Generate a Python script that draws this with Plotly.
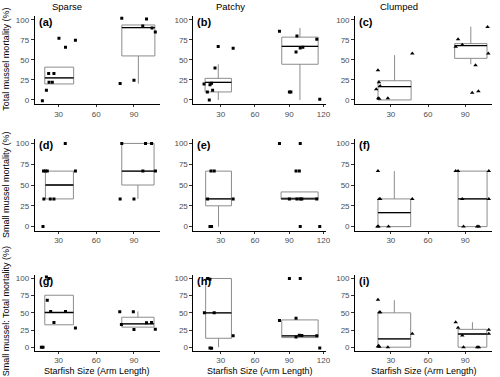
import plotly.graph_objects as go

# ---------------- data ----------------
col_titles = ["Sparse", "Patchy", "Clumped"]
row_titles = ["Total mussel mortality (%)", "Small mussel mortality (%)",
              "Small mussel: Total mortality (%)"]
x_title = "Starfish Size (Arm Length)"
panel_labels = ["(a)", "(b)", "(c)", "(d)", "(e)", "(f)", "(g)", "(h)", "(i)"]
y_ticks = [0, 25, 50, 75, 100]
x_ticks_col = [[30, 60, 90], [30, 60, 90, 120], [30, 60, 90]]

# panel (a)
a_x = [17.1, 20.3, 22.1, 26.3, 22.4, 25.0, 30.3, 35.5, 43.4, 80.3, 79.0, 90.0, 97.0, 100.0, 104.4, 107.0]
a_y = [-1, 12, 33, 33, 22, 22, 77, 66, 74.6, 102, 20.4, 24.6, 92.5, 101, 90, 85]
a_pos = [30.5, 93.5]; a_wid = [23.0, 26.3]
a_q1 = [20, 55]; a_med = [27.5, 90.4]; a_q3 = [41, 93.7]; a_lo = [20, 20.4]; a_hi = [41, 93.7]

# panel (b)
b_x = [15.4, 18.3, 20.0, 20.6, 22.0, 22.9, 25.0, 27.8, 40.9, 81.5, 90.2, 91.5, 96.8, 96.0, 99.7, 102.0, 114.2, 116.8]
b_y = [20, 10, 0, 19, 21, 12, 40, 66.7, 64.6, 86, 10, 10, 80, 60, 65, 66, 76, 1]
b_pos = [27.85, 99.45]; b_wid = [23.1, 31.9]
b_q1 = [10, 44.6]; b_med = [22, 67]; b_q3 = [27, 78.5]; b_lo = [0, 0]; b_hi = [44.6, 90]

# panel (c)
c_x = [19.6, 20.4, 18.2, 21.4, 19.8, 20.6, 27.6, 47.3, 84.2, 82.3, 87.6, 98.3, 95.6, 100.6, 108.0, 108.6]
c_y = [37, 22, 13.3, 17.5, 2, 1.5, 2, 58, 76, 66.6, 69, 43.4, 9, 11, 91, 58]
c_pos = [33.0, 94.5]; c_wid = [26.7, 26.1]
c_q1 = [0, 52]; c_med = [16.7, 68]; c_q3 = [24, 70.4]; c_lo = [0, 44.6]; c_hi = [56, 91.6]

# panel (d)
d_x = [17.6, 18.0, 19.5, 21.0, 18.3, 23.4, 26.3, 35.3, 43.4, 80.3, 79.0, 90.0, 99.2, 104.0, 97.1, 107.1]
d_y = [0, 66.7, 66.7, 66.7, 33.3, 33.3, 33.3, 100, 66.7, 100, 33.3, 33.3, 100, 100, 66.7, 66.7]
d_pos = [30.65, 93.15]; d_wid = [22.3, 25.7]
d_q1 = [33.3, 50]; d_med = [50, 66.7]; d_q3 = [66.7, 100]; d_lo = [33.3, 33.3]; d_hi = [66.7, 100]

# panel (e)
e_x = [21.5, 24.3, 20.6, 22.0, 18.5, 40.9, 81.5, 99.7, 96.0, 98.9, 90.2, 96.8, 99.7, 101.1, 114.2, 99.7, 116.8]
e_y = [66.7, 66.7, 0, 0, 33.3, 33.3, 100, 100, 66.7, 66.7, 33.3, 33.3, 33.3, 33.3, 33.3, 0, 0]
e_pos = [28.1, 99.15]; e_wid = [22.6, 32.5]
e_q1 = [25, 33.3]; e_med = [33.3, 33.3]; e_q3 = [66.7, 41.7]; e_lo = [0, 33.3]; e_hi = [66.7, 41.7]

# panel (f)
f_x = [19.6, 20.6, 21.4, 19.2, 20.0, 28.1, 47.3, 82.3, 84.2, 109.0, 87.6, 109.0, 88.6, 99.6, 101.0]
f_y = [66.7, 33.3, 33.3, 0, 0, 0, 33.3, 66.7, 66.7, 66.7, 33.3, 33.3, 0, 0, 0]
f_pos = [32.8, 95.9]; f_wid = [26.4, 23.4]
f_q1 = [0, 0]; f_med = [16.7, 33.3]; f_q3 = [33.3, 66.7]; f_lo = [0, 0]; f_hi = [66.7, 66.7]

# panel (g)
g_x = [16.3, 17.6, 20.3, 22.3, 21.0, 23.7, 26.3, 35.5, 43.4, 78.7, 80.0, 89.5, 90.0, 100.0, 104.0, 107.0]
g_y = [0, 0, 102, 100, 68.4, 52, 36, 52, 27.8, 51.7, 33, 51.7, 25.8, 35.4, 35.8, 26]
g_pos = [30.4, 93.15]; g_wid = [22.8, 25.7]
g_q1 = [32.6, 29.2]; g_med = [50.5, 34]; g_q3 = [75.6, 43.6]; g_lo = [32.6, 29.2]; g_hi = [75.6, 52]

# panel (h)
h_x = [18.5, 20.6, 15.7, 24.3, 20.6, 22.0, 40.9, 90.2, 99.7, 81.5, 96.0, 96.0, 98.9, 101.1, 114.2, 116.8]
h_y = [100, 99, 50, 50, -1, -1.5, 16.7, 100, 100, 38.7, 42, 15, 17.5, 17, 16.5, -1]
h_pos = [28.1, 99.45]; h_wid = [22.6, 31.9]
h_q1 = [13, 14]; h_med = [50, 16.5]; h_q3 = [100, 39.7]; h_lo = [0, 14]; h_hi = [100, 39.7]

# panel (i)
i_x = [19.6, 20.7, 21.4, 19.6, 20.2, 20.7, 27.6, 47.3, 82.3, 84.2, 87.6, 109.0, 109.0, 88.6, 99.6, 101.0]
i_y = [68.9, 50.8, 50.8, 1, 2, 0.5, 0, 19.7, 36.4, 28.3, 17.2, 25.4, 19.7, 0, 0, 0]
i_pos = [32.8, 95.8]; i_wid = [26.4, 23.2]
i_q1 = [0, 0]; i_med = [12, 19.2]; i_q3 = [50, 26]; i_lo = [0, 0]; i_hi = [68.4, 36.4]

panels = [
    (a_x, a_y, a_pos, a_wid, a_q1, a_med, a_q3, a_lo, a_hi),
    (b_x, b_y, b_pos, b_wid, b_q1, b_med, b_q3, b_lo, b_hi),
    (c_x, c_y, c_pos, c_wid, c_q1, c_med, c_q3, c_lo, c_hi),
    (d_x, d_y, d_pos, d_wid, d_q1, d_med, d_q3, d_lo, d_hi),
    (e_x, e_y, e_pos, e_wid, e_q1, e_med, e_q3, e_lo, e_hi),
    (f_x, f_y, f_pos, f_wid, f_q1, f_med, f_q3, f_lo, f_hi),
    (g_x, g_y, g_pos, g_wid, g_q1, g_med, g_q3, g_lo, g_hi),
    (h_x, h_y, h_pos, h_wid, h_q1, h_med, h_q3, h_lo, h_hi),
    (i_x, i_y, i_pos, i_wid, i_q1, i_med, i_q3, i_lo, i_hi),
]

# ---------------- layout geometry (pixels) ----------------
W, H = 500, 377
col_px = [(35, 161), (195, 329), (358, 496)]
col_range = [[11.0, 110.5], [6.1, 122.6], [1.2, 111.6]]
row_px = [(15, 103.5), (139, 231), (275.5, 351.5)]
y_range = [-5, 105]
FONT = "Liberation Sans, Arial, sans-serif"

fig = go.Figure()
layout = dict(
    width=W, height=H, margin=dict(l=0, r=0, t=0, b=0),
    paper_bgcolor="white", plot_bgcolor="white", showlegend=False,
    font=dict(family=FONT, size=8, color="#4d4d4d"),
    boxmode="overlay",
)
annotations = []

for k, (px, py, pos, wid, q1, med, q3, lo, hi) in enumerate(panels):
    r, c = divmod(k, 3)
    n = "" if k == 0 else str(k + 1)
    xa, ya = "x" + n, "y" + n
    x0, x1 = col_px[c]
    y0, y1 = row_px[r]
    layout["xaxis" + n] = dict(
        domain=[x0 / W, x1 / W], anchor=ya, range=col_range[c],
        tickvals=x_ticks_col[c], ticks="outside", ticklen=2, tickcolor="#333",
        showline=True, linecolor="black", linewidth=1, showgrid=False, zeroline=False,
        tickfont=dict(size=8, color="#4d4d4d"), fixedrange=True,
    )
    layout["yaxis" + n] = dict(
        domain=[1 - y1 / H, 1 - y0 / H], anchor=xa, range=y_range,
        tickvals=y_ticks, ticks="outside", ticklen=3, tickcolor="#333",
        showline=True, linecolor="black", linewidth=1, showgrid=False, zeroline=False,
        tickfont=dict(size=8, color="#4d4d4d"), fixedrange=True,
    )
    for j in range(2):
        fig.add_trace(go.Box(
            x=[pos[j]], q1=[q1[j]], median=[med[j]], q3=[q3[j]],
            lowerfence=[lo[j]], upperfence=[hi[j]], width=wid[j],
            whiskerwidth=0, boxpoints=False,
            line=dict(color="#8c8c8c", width=1), fillcolor="rgba(0,0,0,0)",
            xaxis=xa, yaxis=ya, hoverinfo="skip",
        ))
        fig.add_trace(go.Scatter(
            x=[pos[j] - wid[j] / 2, pos[j] + wid[j] / 2], y=[med[j], med[j]],
            mode="lines", line=dict(color="black", width=1.3),
            xaxis=xa, yaxis=ya, hoverinfo="skip",
        ))
    fig.add_trace(go.Scatter(
        x=px, y=py, mode="markers",
        marker=dict(symbol="triangle-up" if c == 2 else "square",
                    size=4 if c == 2 else 3, color="black", line=dict(width=0)),
        xaxis=xa, yaxis=ya, hoverinfo="skip",
    ))
    # panel label
    annotations.append(dict(
        text="<b>%s</b>" % panel_labels[k], xref="paper", yref="paper",
        x=(x0 + 2) / W, y=1 - (y0 + 6) / H, xanchor="left", yanchor="middle",
        showarrow=False, font=dict(size=11, color="black", family=FONT),
    ))

col_title_x = [68, 232, 402]
for c in range(3):
    annotations.append(dict(
        text=col_titles[c], xref="paper", yref="paper",
        x=col_title_x[c] / W, y=1 - 6 / H, xanchor="center", yanchor="middle",
        showarrow=False, font=dict(size=9.5, color="black", family=FONT),
    ))
    annotations.append(dict(
        text=x_title, xref="paper", yref="paper",
        x=(col_px[c][0] + col_px[c][1]) / 2 / W, y=1 - 372 / H,
        xanchor="center", yanchor="middle",
        showarrow=False, font=dict(size=9, color="black", family=FONT),
    ))

row_title_y = [58, 184, 312]
for r in range(3):
    annotations.append(dict(
        text=row_titles[r], xref="paper", yref="paper",
        x=6 / W, y=1 - row_title_y[r] / H, xanchor="center", yanchor="middle",
        textangle=-90, showarrow=False,
        font=dict(size=9, color="black", family=FONT),
    ))

layout["annotations"] = annotations
fig.update_layout(**layout)
fig.write_html("out.html", config={"displayModeBar": False},
               post_script="document.body.style.margin='0';document.body.style.overflow='hidden';")
